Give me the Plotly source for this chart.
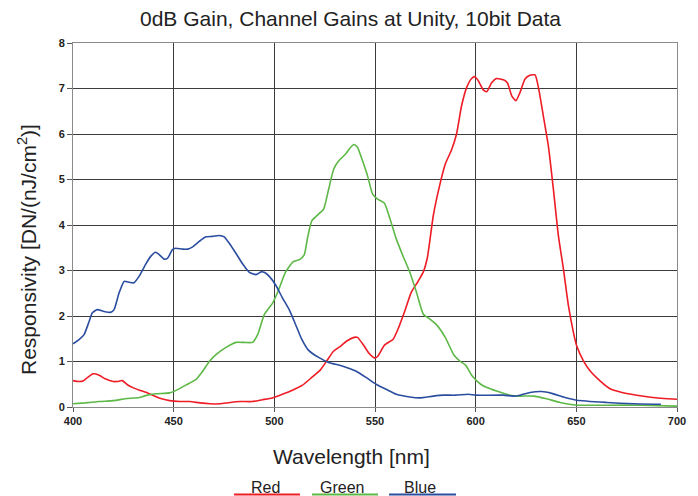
import plotly.graph_objects as go

# Spectral responsivity of the three colour channels (DN per nJ/cm^2)
red_nm = [400, 403, 405, 407, 410, 413, 416, 420, 422, 424.5, 427, 430, 433, 437, 441, 444, 448, 453,
          458, 463, 468, 473, 478, 483, 489, 494, 499, 504, 509, 514, 518.6, 522.8, 526, 529.5, 533,
          536, 539.6, 541.3, 544, 547, 549.7, 551.3, 554.7, 559, 561.4, 564.8, 568, 571.5, 574, 576,
          579, 582, 585, 588, 590.5, 593, 595.5, 598, 599.7, 601.3, 603.8, 605.5, 608, 610.4, 613.8,
          615.8, 617.9, 620, 622, 624.5, 627, 629.5, 631.2, 633.6, 636.1, 638.6, 641.1, 643.6, 646.1,
          648.6, 650.2, 653.6, 656.9, 661.9, 666.8, 671.8, 680, 688, 700]
red_val = [0.58, 0.56, 0.57, 0.64, 0.73, 0.70, 0.62, 0.56, 0.56, 0.58, 0.49, 0.42, 0.37, 0.31, 0.23,
           0.18, 0.14, 0.12, 0.12, 0.09, 0.07, 0.07, 0.10, 0.12, 0.12, 0.16, 0.20, 0.28, 0.37, 0.48,
           0.65, 0.81, 1.01, 1.23, 1.34, 1.45, 1.53, 1.53, 1.38, 1.18, 1.08, 1.11, 1.36, 1.49, 1.71,
           2.11, 2.52, 2.77, 2.97, 3.28, 4.22, 4.85, 5.35, 5.65, 6.00, 6.62, 7.02, 7.22, 7.26, 7.17,
           6.97, 6.93, 7.13, 7.22, 7.19, 7.12, 6.84, 6.73, 6.91, 7.21, 7.29, 7.30, 7.02, 6.40, 5.74,
           4.79, 3.76, 3.03, 2.22, 1.63, 1.34, 1.01, 0.79, 0.57, 0.40, 0.33, 0.26, 0.21, 0.17]

green_nm = [400, 406, 413, 420, 426, 433, 436, 441, 448, 451, 456, 461, 464.3, 467.7, 471, 476, 481,
            485, 489.2, 491.7, 495, 499.2, 502, 505.5, 509.3, 512.5, 514.9, 516.5, 518.6, 522, 524.5,
            527, 529.5, 532, 535.4, 537.9, 539.6, 541.3, 543.8, 546.3, 548.8, 551.3, 554.7, 557.2,
            560.6, 563.9, 567.3, 570.6, 574, 577.3, 580.7, 584.9, 589.1, 592.4, 595, 598.3, 602.5,
            605, 610.4, 617, 622, 628.7, 635.3, 641.9, 650.2, 665, 682, 700]
green_val = [0.07, 0.09, 0.12, 0.14, 0.18, 0.21, 0.25, 0.29, 0.31, 0.36, 0.48, 0.60, 0.78, 1.00, 1.15,
             1.31, 1.42, 1.42, 1.42, 1.59, 2.03, 2.29, 2.56, 2.96, 3.19, 3.24, 3.35, 3.72, 4.09, 4.24,
             4.35, 4.79, 5.23, 5.41, 5.56, 5.71, 5.77, 5.71, 5.41, 5.08, 4.68, 4.57, 4.48, 4.17, 3.69,
             3.32, 2.96, 2.52, 2.04, 1.93, 1.80, 1.53, 1.15, 1.00, 0.92, 0.68, 0.50, 0.44, 0.35, 0.26,
             0.24, 0.24, 0.18, 0.10, 0.04, 0.04, 0.04, 0.02]

blue_nm = [400, 403, 405.5, 408, 409.6, 412, 415.4, 418.7, 420.4, 422.9, 425.4, 428, 430.3, 432.8, 436,
           438.6, 441, 442.8, 445.3, 447, 449.4, 451, 454.4, 457, 459.4, 462.7, 466, 469.3, 472.6,
           475.1, 477.6, 480.9, 484.2, 487.6, 490.9, 493.4, 495, 497.5, 500.8, 504, 507.5, 510.5,
           513.6, 516.9, 522, 527, 533.7, 540.4, 545.5, 550.5, 555.5, 560.6, 567.3, 572.3, 579, 584,
           590, 596.4, 600, 613.8, 618.7, 622, 627, 632.8, 637.8, 643.6, 650.2, 665.2, 678.4, 692]
blue_val = [1.39, 1.48, 1.59, 1.88, 2.07, 2.14, 2.10, 2.08, 2.14, 2.51, 2.76, 2.74, 2.73, 2.87, 3.13,
            3.31, 3.40, 3.35, 3.25, 3.27, 3.46, 3.49, 3.47, 3.47, 3.52, 3.64, 3.74, 3.75, 3.77, 3.74,
            3.60, 3.38, 3.15, 2.96, 2.91, 2.97, 2.96, 2.87, 2.67, 2.40, 2.13, 1.82, 1.49, 1.25, 1.09,
            0.98, 0.90, 0.79, 0.65, 0.50, 0.39, 0.28, 0.22, 0.20, 0.24, 0.26, 0.26, 0.28, 0.26, 0.26,
            0.24, 0.26, 0.32, 0.34, 0.30, 0.22, 0.15, 0.10, 0.07, 0.06]

series = [("Red", red_nm, red_val, "#ee1c25"),
          ("Green", green_nm, green_val, "#5db847"),
          ("Blue", blue_nm, blue_val, "#2b4da0")]

x_ticks = [400, 450, 500, 550, 600, 650, 700]
y_ticks = [0, 1, 2, 3, 4, 5, 6, 7, 8]

W, H = 698, 496
L, R, T, B = 73, 21, 43, 89
pw, ph = W - L - R, H - T - B


def px(xpix):
    return (xpix - L) / pw


def py(ypix):
    return (H - B - ypix) / ph


fig = go.Figure()
for name, xs, ys, col in series:
    fig.add_trace(go.Scatter(x=xs, y=ys, mode="lines", name=name,
                             line=dict(color=col, width=1.6, shape="spline", smoothing=0.5),
                             showlegend=False))

tick_font = dict(family="Liberation Sans Narrow, Arial Narrow, Liberation Sans, Arial",
                 size=11, color="#222", weight="bold")
fig.update_xaxes(range=[400, 700], tickvals=x_ticks, showgrid=True, gridcolor="#3c3c3c",
                 gridwidth=1, zeroline=False, showline=True, linecolor="#8a8a8a", mirror=True,
                 ticks="outside", ticklen=4, tickcolor="#555", tickfont=tick_font)
fig.update_yaxes(range=[0, 8], tickvals=y_ticks, showgrid=True, gridcolor="#3c3c3c",
                 gridwidth=1, zeroline=False, showline=True, linecolor="#8a8a8a", mirror=True,
                 ticks="outside", ticklen=5, tickcolor="#555", tickfont=tick_font)

label_font = "Liberation Sans, Arial, sans-serif"
annotations = [
    dict(text="0dB Gain, Channel Gains at Unity, 10bit Data", x=px(350), y=py(18),
         font=dict(family=label_font, size=21, color="#222")),
    dict(text="Wavelength [nm]", x=px(351), y=py(456),
         font=dict(family=label_font, size=21, color="#222")),
    dict(text="Responsivity [DN/(nJ/cm<sup>2</sup>)]", x=px(27), y=py(250), textangle=-90,
         font=dict(family=label_font, size=21, color="#222")),
]
shapes = []
legend_pos = [(265, 234, 300), (342, 312, 378), (420, 389, 456)]
for (name, _, _, col), (tx, l0, l1) in zip(series, legend_pos):
    annotations.append(dict(text=name, x=px(tx), y=py(487),
                            font=dict(family=label_font, size=16, color="#222")))
    shapes.append(dict(type="line", xref="paper", yref="paper", x0=px(l0), x1=px(l1),
                       y0=py(494.5), y1=py(494.5), line=dict(color=col, width=2)))

for a in annotations:
    a.update(xref="paper", yref="paper", showarrow=False, xanchor="center", yanchor="middle")

fig.update_layout(width=W, height=H, margin=dict(l=L, r=R, t=T, b=B),
                  paper_bgcolor="white", plot_bgcolor="white",
                  annotations=annotations, shapes=shapes)

fig.write_html("out.html")
